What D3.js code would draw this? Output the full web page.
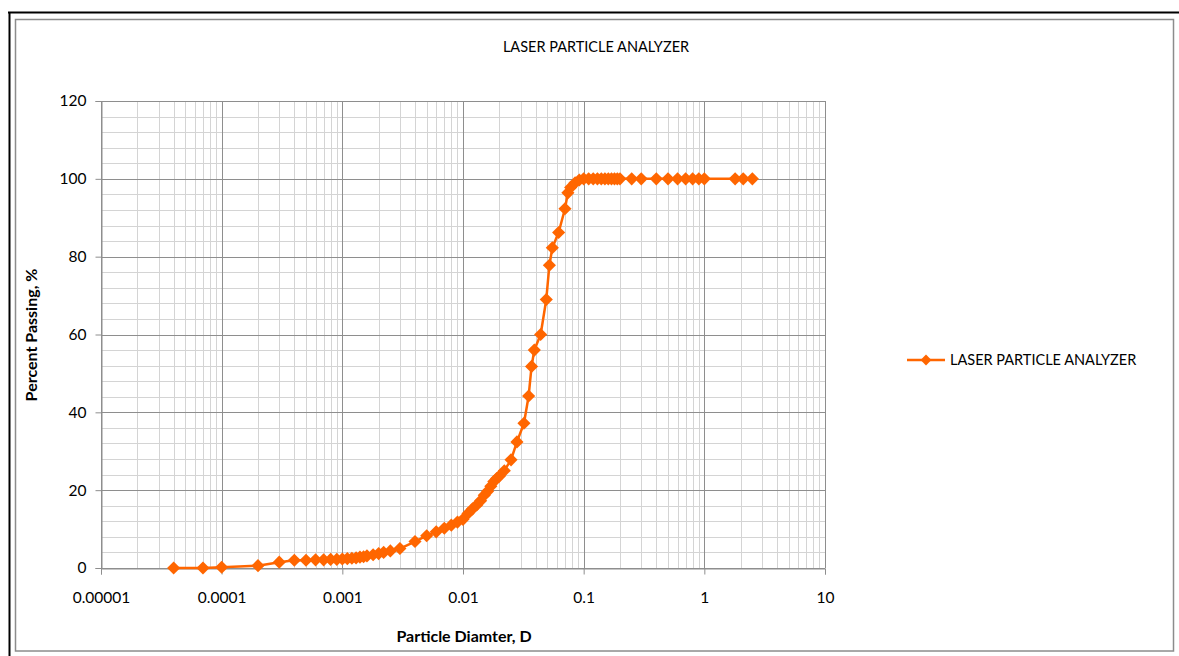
<!DOCTYPE html>
<html>
<head>
<meta charset="utf-8">
<script src="https://cdn.jsdelivr.net/npm/d3@7"></script>
<style>
  body { margin: 0; background: #fff; }
  svg { display: block; font-family: Lato, "Open Sans", sans-serif; }
</style>
</head>
<body>
<div id="svg_div"></div>
<script>
// Particle size data (diameter, percent passing)
var diameters = [0.00004, 0.00007, 0.0001, 0.0002, 0.0003, 0.0004, 0.0005, 0.0006, 0.0007, 0.0008, 0.0009,
    0.001, 0.0011, 0.0012, 0.0013, 0.0014, 0.0015, 0.0016, 0.0018, 0.002, 0.0022, 0.0025,
    0.003, 0.004, 0.005, 0.006, 0.007, 0.008, 0.009,
    0.01, 0.011, 0.012, 0.013, 0.014, 0.015, 0.016, 0.017, 0.018, 0.019, 0.02, 0.022, 0.025,
    0.028, 0.032, 0.035, 0.037, 0.039, 0.044, 0.049, 0.052, 0.055, 0.062, 0.07, 0.074, 0.078, 0.085, 0.092,
    0.1, 0.11, 0.12, 0.13, 0.14, 0.15, 0.16, 0.17, 0.18, 0.19, 0.2, 0.25, 0.3, 0.4, 0.5, 0.6, 0.7, 0.8, 0.9,
    1.0, 1.8, 2.1, 2.5];
var passing = [0, 0, 0.2, 0.6, 1.5, 2.0, 2.0, 2.1, 2.1, 2.2, 2.2,
    2.3, 2.4, 2.5, 2.6, 2.8, 2.9, 3.1, 3.4, 3.7, 4.0, 4.4,
    5.0, 6.8, 8.3, 9.3, 10.2, 11.0, 11.8,
    12.5, 14.0, 15.2, 16.2, 17.3, 18.7, 19.7, 21.0, 22.2, 23.0, 23.6, 25.0, 27.8,
    32.4, 37.2, 44.2, 51.8, 56.0, 60.0, 69.0, 77.8, 82.3, 86.2, 92.3, 96.4, 97.8, 99.0, 99.7,
    100, 100, 100, 100, 100, 100, 100, 100, 100, 100, 100, 100, 100, 100, 100, 100, 100, 100, 100,
    100, 100, 100, 100];
var xTicks = [0.00001, 0.0001, 0.001, 0.01, 0.1, 1, 10];
var xTickLabels = ["0.00001", "0.0001", "0.001", "0.01", "0.1", "1", "10"];
var yTicks = [0, 20, 40, 60, 80, 100, 120];
var seriesName = "LASER PARTICLE ANALYZER";

var svg = d3.select("#svg_div").append("svg").attr("width", 1179).attr("height", 656);

// Outer frame lines and inner chart border
svg.append("line").attr("x1", 8).attr("x2", 1179).attr("y1", 12.5).attr("y2", 12.5)
    .attr("stroke", "#000").attr("stroke-width", 2);
svg.append("line").attr("x1", 9.5).attr("x2", 9.5).attr("y1", 12).attr("y2", 656)
    .attr("stroke", "#000").attr("stroke-width", 2);
svg.append("rect").attr("x", 15.5).attr("y", 19.5).attr("width", 1158).attr("height", 631.5)
    .attr("fill", "none").attr("stroke", "#8c8c8c").attr("stroke-width", 1.5);

var margin = {top: 101, left: 101, bottom: 568, right: 825};

var xScale = d3.scaleLog().domain([0.00001, 10]).range([margin.left, margin.right]);
var yScale = d3.scaleLinear().domain([0, 120]).range([margin.bottom, margin.top]);

var gridG = svg.append("g").attr("class", "grid");

// Minor vertical gridlines (2..9 in each decade)
var minorX = [];
xTicks.slice(0, -1).forEach(function(t) {
    for (var k = 2; k <= 9; k++) minorX.push(t * k);
});
gridG.selectAll(".minor-x").data(minorX).enter().append("line")
    .attr("x1", function(d) { return Math.round(xScale(d)) + 0.5; })
    .attr("x2", function(d) { return Math.round(xScale(d)) + 0.5; })
    .attr("y1", margin.top).attr("y2", margin.bottom)
    .attr("stroke", "#d4d4d4").attr("stroke-width", 1);

// Minor horizontal gridlines every 4
var minorY = d3.range(4, 120, 4).filter(function(v) { return v % 20 != 0; });
gridG.selectAll(".minor-y").data(minorY).enter().append("line")
    .attr("x1", margin.left).attr("x2", margin.right)
    .attr("y1", function(d) { return Math.round(yScale(d)) + 0.5; })
    .attr("y2", function(d) { return Math.round(yScale(d)) + 0.5; })
    .attr("stroke", "#d4d4d4").attr("stroke-width", 1);

// Major gridlines
gridG.selectAll(".major-x").data(xTicks).enter().append("line")
    .attr("x1", function(d) { return Math.round(xScale(d)) + 0.5; })
    .attr("x2", function(d) { return Math.round(xScale(d)) + 0.5; })
    .attr("y1", margin.top).attr("y2", margin.bottom)
    .attr("stroke", "#8e8e8e").attr("stroke-width", 1);
gridG.selectAll(".major-y").data(yTicks).enter().append("line")
    .attr("x1", margin.left).attr("x2", margin.right)
    .attr("y1", function(d) { return Math.round(yScale(d)) + 0.5; })
    .attr("y2", function(d) { return Math.round(yScale(d)) + 0.5; })
    .attr("stroke", "#8e8e8e").attr("stroke-width", 1);

// Axes
var xAxis = d3.axisBottom(xScale).tickValues(xTicks)
    .tickFormat(function(d, i) { return xTickLabels[i]; })
    .tickSize(6).tickPadding(17);
var xAxisG = svg.append("g").attr("class", "x axis")
    .attr("transform", "translate(0," + (margin.bottom + 0.5) + ")")
    .call(xAxis);

var yAxis = d3.axisLeft(yScale).tickValues(yTicks).tickSize(6).tickPadding(9);
var yAxisG = svg.append("g").attr("class", "y axis")
    .attr("transform", "translate(" + (margin.left + 0.5) + ",0)")
    .call(yAxis);

[xAxisG, yAxisG].forEach(function(g) {
    g.select(".domain").attr("stroke", "#8e8e8e");
    g.selectAll(".tick line").attr("stroke", "#8e8e8e");
    g.selectAll(".tick text").attr("fill", "#000").style("font-size", "15.5px")
        .style("font-family", "Lato, 'Open Sans', sans-serif");
});

// Title and axis labels
svg.append("text").attr("x", 596).attr("y", 52).attr("text-anchor", "middle")
    .style("font-size", "14.5px").text(seriesName);

svg.append("text").attr("x", 464).attr("y", 642).attr("text-anchor", "middle")
    .style("font-size", "16px").style("font-weight", "bold").text("Particle Diamter, D");

svg.append("text").attr("transform", "translate(37,335) rotate(-90)").attr("text-anchor", "middle")
    .style("font-size", "16px").style("font-weight", "bold").text("Percent Passing, %");

// Data series
var data = diameters.map(function(d, i) { return {x: d, y: passing[i]}; });
var orange = "#ff6600";

var line = d3.line()
    .x(function(d) { return xScale(d.x); })
    .y(function(d) { return yScale(d.y); });

svg.append("path").datum(data)
    .attr("d", line)
    .attr("fill", "none")
    .attr("stroke", orange)
    .attr("stroke-width", 2.5)
    .attr("stroke-linejoin", "round");

var diamond = d3.symbol().type(d3.symbolDiamond2).size(110);

svg.selectAll(".marker").data(data).enter().append("path")
    .attr("class", "marker")
    .attr("d", diamond)
    .attr("transform", function(d) { return "translate(" + xScale(d.x) + "," + yScale(d.y) + ")"; })
    .attr("fill", orange);

// Legend
var legendG = svg.append("g").attr("transform", "translate(907,360)");
legendG.append("line").attr("x1", 0).attr("x2", 38).attr("y1", 0).attr("y2", 0)
    .attr("stroke", orange).attr("stroke-width", 2.5);
legendG.append("path").attr("d", d3.symbol().type(d3.symbolDiamond2).size(75))
    .attr("transform", "translate(19,0)").attr("fill", orange);
legendG.append("text").attr("x", 43).attr("y", 5)
    .style("font-size", "14.5px").text(seriesName);
</script>
</body>
</html>
